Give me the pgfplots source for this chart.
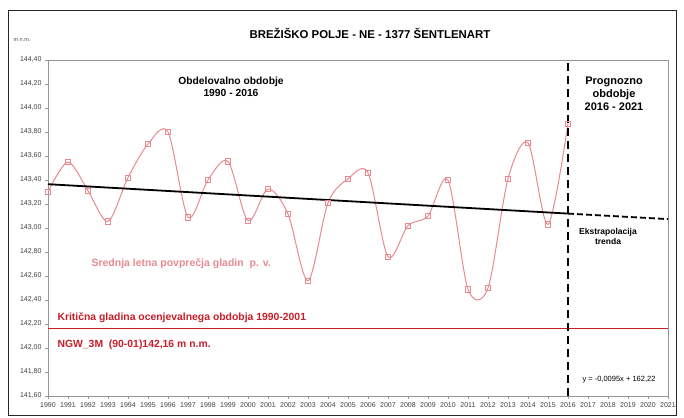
\documentclass[border=0pt]{standalone}
\usepackage{fontspec}
\setmainfont{Liberation Sans}
\usepackage{pgfplots}
\pgfplotsset{compat=1.18}

\definecolor{gladina}{RGB}{232,138,143}
\definecolor{kriticna}{RGB}{200,30,40}
\definecolor{osgray}{RGB}{150,150,150}

\pgfplotstableread{
leto  gladina
1990  143.30
1991  143.55
1992  143.31
1993  143.055
1994  143.42
1995  143.70
1996  143.80
1997  143.09
1998  143.40
1999  143.555
2000  143.06
2001  143.325
2002  143.117
2003  142.56
2004  143.21
2005  143.41
2006  143.46
2007  142.76
2008  143.02
2009  143.10
2010  143.40
2011  142.49
2012  142.50
2013  143.41
2014  143.71
2015  143.03
2016  143.87
}\gladine

\begin{document}
\begin{tikzpicture}[x=1pt,y=1pt]
\useasboundingbox (-48,-21) rectangle (636,396);
\draw[black!85, line width=0.8pt] (-40,-19) rectangle (628,386);
\node[font=\bfseries\fontsize{11.4}{13}\selectfont] at (322,363) {BREŽIŠKO POLJE - NE - 1377 ŠENTLENART};
\node[font=\fontsize{5.5}{6}\selectfont, text=black!70] at (-26,356) {m n.m.};

\begin{axis}[
  scale only axis, width=620pt, height=336pt,
  xmin=1990, xmax=2021, ymin=141.6, ymax=144.4,
  xtick={1990,...,2021},
  ytick={141.6,141.8,142.0,142.2,142.4,142.6,142.8,143.0,143.2,143.4,143.6,143.8,144.0,144.2,144.4},
  xtick pos=left, ytick pos=left, tick align=outside,
  major tick length=3pt,
  axis line style={osgray}, tick style={osgray, line width=0.6pt},
  tick label style={font=\fontsize{7}{8}\selectfont, text=black!75},
  x tick label style={/pgf/number format/.cd, 1000 sep={}, assume math mode=true},
  y tick label style={/pgf/number format/.cd, fixed, fixed zerofill, precision=2, use comma, assume math mode=true},
  clip=false,
]
% kriticna gladina
\addplot[kriticna, line width=1.1pt] coordinates {(1990,142.16) (2021,142.16)};
% srednja letna povprecja
\addplot[gladina, line width=1pt, smooth, tension=0.5, mark=square, mark size=2.7pt,
  mark options={fill=white, line width=0.6pt}] table[x=leto, y=gladina] {\gladine};
% trend
\addplot[black, line width=1.8pt] coordinates {(1990,143.365) (2016,143.12)};
\addplot[black, line width=1.8pt, dash pattern=on 6pt off 3pt] coordinates {(2016,143.12) (2021,143.074)};
% meja obdobij
\addplot[black, line width=1.6pt, dash pattern=on 8pt off 5pt] coordinates {(2016,141.6) (2016,144.4)};

\node[font=\bfseries\fontsize{10.3}{12}\selectfont, align=center] at (axis cs:1999.15,144.18) {Obdelovalno obdobje\\1990 - 2016};
\node[font=\bfseries\fontsize{11}{13}\selectfont, align=center] at (axis cs:2018.3,144.12) {Prognozno\\obdobje\\2016 - 2021};
\node[font=\bfseries\fontsize{8.5}{10}\selectfont, align=center] at (axis cs:2018.0,142.93) {Ekstrapolacija\\trenda};
\node[font=\bfseries\fontsize{10.5}{12}\selectfont, text=gladina, anchor=west] at (axis cs:1992.0,142.70) {Srednja letna povprečja gladin\ \ p. v.};
\node[font=\bfseries\fontsize{10.4}{12}\selectfont, text=kriticna, anchor=west] at (axis cs:1990.3,142.25) {Kritična gladina ocenjevalnega obdobja 1990-2001};
\node[font=\bfseries\fontsize{10.4}{12}\selectfont, text=kriticna, anchor=west] at (axis cs:1990.3,142.03) {NGW\_3M\ \ (90-01)142,16 m n.m.};
\node[font=\fontsize{7.5}{9}\selectfont] at (axis cs:2018.55,141.735) {y = -0,0095x + 162,22};
\end{axis}
\end{tikzpicture}
\end{document}
